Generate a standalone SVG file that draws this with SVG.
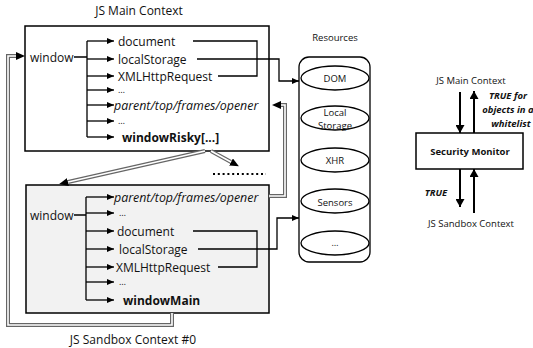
<svg xmlns="http://www.w3.org/2000/svg" width="533" height="348" viewBox="0 0 533 348">
<style>
text{font-family:"Open Sans","Noto Sans","Liberation Sans",sans-serif;fill:#111}
.t{font-size:12px}
.el{font-size:9px}
.it{font-size:12.4px;font-style:italic}
.b{font-size:12px;font-weight:bold}
.s{font-size:9.5px}
.r{font-size:9.5px}
.bi{font-size:9.5px;font-weight:bold;font-style:italic}
.ln{fill:none;stroke:#000;stroke-width:1.3}
.dout{fill:none;stroke:#666;stroke-width:4}
.din{fill:none;stroke:#fff;stroke-width:1.6}
.thick{fill:none;stroke:#000;stroke-width:2}
</style>
<defs>
<marker id="ah" markerUnits="userSpaceOnUse" markerWidth="7" markerHeight="6" refX="7" refY="3" orient="auto"><path d="M0,0 L7,3 L0,6 z" fill="#000"/></marker>
<marker id="ahd" markerUnits="userSpaceOnUse" markerWidth="9" markerHeight="8" refX="0" refY="4" orient="auto"><path d="M0,0 L9,4 L0,8 z" fill="#000"/></marker>
<marker id="ahb" markerUnits="userSpaceOnUse" markerWidth="8" markerHeight="9" refX="8" refY="4.5" orient="auto"><path d="M0,0 L8,4.5 L0,9 z" fill="#000"/></marker>
</defs>

<text class="t" x="139" y="15" text-anchor="middle">JS Main Context</text>
<text class="t" x="133" y="344" text-anchor="middle">JS Sandbox Context #0</text>
<text class="s" x="335" y="41" text-anchor="middle">Resources</text>

<g id="main-context">
<rect x="25" y="26" width="244" height="125" fill="#fff" stroke="#000" stroke-width="1.5"/>
<text class="t" x="30" y="57" dominant-baseline="central">window</text>
<path class="ln" d="M74,57 H87 M87,41 V137"/>
<g class="ln">
<line x1="87" y1="41" x2="114" y2="41" marker-end="url(#ah)"/>
<line x1="87" y1="59" x2="114" y2="59" marker-end="url(#ah)"/>
<line x1="87" y1="76" x2="114" y2="76" marker-end="url(#ah)"/>
<line x1="87" y1="90" x2="114" y2="90" marker-end="url(#ah)"/>
<line x1="87" y1="105" x2="114" y2="105" marker-end="url(#ah)"/>
<line x1="87" y1="121" x2="114" y2="121" marker-end="url(#ah)"/>
<line x1="87" y1="137" x2="114" y2="137" marker-end="url(#ah)"/>
</g>
<text class="t" x="118" y="41" dominant-baseline="central">document</text>
<text class="t" x="118" y="59" dominant-baseline="central">localStorage</text>
<text class="t" x="118" y="76" dominant-baseline="central">XMLHttpRequest</text>
<text class="el" x="118" y="93">…</text>
<text class="it" x="114" y="105" dominant-baseline="central">parent/top/frames/opener</text>
<text class="el" x="118" y="124">…</text>
<text class="b" x="122" y="137" dominant-baseline="central">windowRisky[...]</text>
</g>

<g id="sandbox-context">
<rect x="26" y="185" width="243" height="128" fill="#f2f2f2" stroke="#000" stroke-width="1.5"/>
<text class="t" x="30" y="215" dominant-baseline="central">window</text>
<path class="ln" d="M74,215 H86 M86,197 V300"/>
<g class="ln">
<line x1="86" y1="197" x2="114" y2="197" marker-end="url(#ah)"/>
<line x1="86" y1="213" x2="114" y2="213" marker-end="url(#ah)"/>
<line x1="86" y1="231" x2="114" y2="231" marker-end="url(#ah)"/>
<line x1="86" y1="249" x2="114" y2="249" marker-end="url(#ah)"/>
<line x1="86" y1="267" x2="114" y2="267" marker-end="url(#ah)"/>
<line x1="86" y1="282" x2="114" y2="282" marker-end="url(#ah)"/>
<line x1="86" y1="300" x2="114" y2="300" marker-end="url(#ah)"/>
</g>
<text class="it" x="114" y="197" dominant-baseline="central">parent/top/frames/opener</text>
<text class="el" x="119" y="216">…</text>
<text class="t" x="117" y="231" dominant-baseline="central">document</text>
<text class="t" x="119" y="249" dominant-baseline="central">localStorage</text>
<text class="t" x="116" y="267" dominant-baseline="central">XMLHttpRequest</text>
<text class="el" x="119" y="285">…</text>
<text class="b" x="123" y="300" dominant-baseline="central">windowMain</text>
</g>

<g id="resources">
<rect x="299" y="57" width="71" height="205" rx="10" fill="#fff" stroke="#000" stroke-width="1.3"/>
<g fill="#fff" stroke="#000" stroke-width="1.3">
<ellipse cx="335" cy="78" rx="34" ry="12"/>
<ellipse cx="335" cy="118" rx="34" ry="12"/>
<ellipse cx="335" cy="160" rx="34" ry="12"/>
<ellipse cx="335" cy="201" rx="34" ry="12"/>
<ellipse cx="335" cy="243" rx="34" ry="12"/>
</g>
<text class="r" x="335" y="78" text-anchor="middle" dominant-baseline="central">DOM</text>
<text class="r" x="335" y="112" text-anchor="middle" dominant-baseline="central">Local</text>
<text class="r" x="335" y="125" text-anchor="middle" dominant-baseline="central">Storage</text>
<text class="r" x="335" y="160" text-anchor="middle" dominant-baseline="central">XHR</text>
<text class="r" x="335" y="202" text-anchor="middle" dominant-baseline="central">Sensors</text>
<text class="el" x="335" y="246" text-anchor="middle">…</text>
</g>

<g id="security-monitor">
<rect x="416" y="133" width="107" height="36" fill="#fff" stroke="#000" stroke-width="1.5"/>
<text class="s" x="470" y="151" text-anchor="middle" dominant-baseline="central" font-weight="bold">Security Monitor</text>
</g>
<text class="r" x="471" y="80" text-anchor="middle" dominant-baseline="central">JS Main Context</text>
<text class="r" x="471" y="223" text-anchor="middle" dominant-baseline="central">JS Sandbox Context</text>
<text class="bi" x="508" y="95" text-anchor="middle" dominant-baseline="central">TRUE for</text>
<text class="bi" x="508" y="109" text-anchor="middle" dominant-baseline="central">objects in a</text>
<text class="bi" x="511" y="123" text-anchor="middle" dominant-baseline="central">whitelist</text>
<text class="bi" x="436" y="192" text-anchor="middle" dominant-baseline="central">TRUE</text>

<g id="connectors">
<path class="ln" d="M193,41 H257 V76 H218"/>
<path class="ln" d="M197,59 H279 V81 H299" marker-end="url(#ah)"/>
<path class="ln" d="M193,231 H257 V267 H218"/>
<path class="ln" d="M198,249 H277 V218 H299" marker-end="url(#ah)"/>

<path class="dout" d="M172,313 V325 H8 V56 H16" marker-end="url(#ahd)" stroke-width="3.4"/>
<path class="din" d="M172,313 V325 H8 V56 H16" stroke-width="1.4"/>
<path class="dout" d="M269,196 H285 V105 H281" marker-end="url(#ahd)" stroke-width="3.4"/>
<path class="din" d="M269,196 H285 V105 H281" stroke-width="1.4"/>
<path class="dout" d="M205,151 L68,182" marker-end="url(#ahd)" stroke-width="3.4"/>
<path class="din" d="M205,151 L68,182" stroke-width="1.2"/>
<path class="dout" d="M211,151 L231,162" marker-end="url(#ahd)" stroke-width="3.4"/>
<path class="din" d="M211,151 L231,162" stroke-width="1.2"/>
<line x1="213" y1="174" x2="266" y2="174" stroke="#000" stroke-width="2" stroke-dasharray="2,2.8"/>

<line class="thick" x1="460" y1="92" x2="460" y2="133" marker-end="url(#ahb)"/>
<line class="thick" x1="474" y1="133" x2="474" y2="91" marker-end="url(#ahb)"/>
<line class="thick" x1="460" y1="169" x2="460" y2="207" marker-end="url(#ahb)"/>
<line class="thick" x1="474" y1="213" x2="474" y2="169" marker-end="url(#ahb)"/>
</g>
</svg>
